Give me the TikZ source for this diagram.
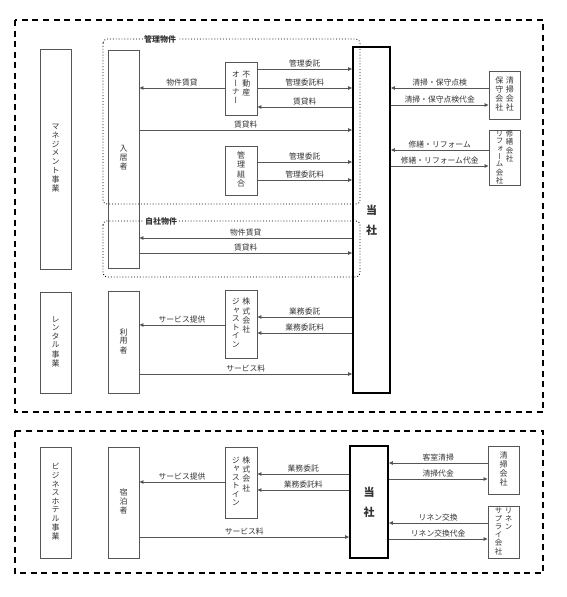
\documentclass[tikz,border=0pt]{standalone}
\usepackage{fontspec}
\setmainfont{Noto Sans CJK JP}
\newfontfamily\tatefont[RawFeature=+vert]{Noto Sans CJK JP}
\usetikzlibrary{arrows.meta}
\definecolor{linegray}{HTML}{555555}
\definecolor{textgray}{HTML}{333333}
\newcommand{\tcol}[1]{\begin{tabular}[t]{@{}c@{}}#1\end{tabular}}

\begin{document}
\begin{tikzpicture}[x=1pt,y=-1pt,>={Triangle[length=4pt,width=3.5pt]},
  box/.style={draw=linegray,line width=0.9pt,inner sep=0pt,text=textgray,
    font=\tatefont\fontsize{8}{8.4}\selectfont},
  tosha/.style={draw=black,line width=1.8pt,inner sep=0pt,text=textgray,
    font=\bfseries\fontsize{11}{20}\selectfont},
  arr/.style={->,draw=linegray,line width=0.8pt},
  lab/.style={above,inner sep=1.5pt,text=textgray,font=\fontsize{7.8}{8}\selectfont},
  area/.style={dotted,line width=0.9pt,rounded corners=4pt},
  areatag/.style={fill=white,inner sep=1.5pt,text=textgray,font=\bfseries\fontsize{8}{8}\selectfont},
  segment/.style={dash pattern=on 6pt off 4.5pt,line width=2pt}]
  \useasboundingbox (0,0) rectangle (567,597);

  % management + rental (upper segment)
  \draw[segment] (15,20) rectangle (543,412);
  \node[box,minimum width=31pt,minimum height=220pt] (mgmt) at (55.5,159)
       {\tcol{マ\\ネ\\ジ\\メ\\ン\\ト\\事\\業}};
  \node[box,minimum width=31pt,minimum height=218pt] (tenant) at (123.5,159)
       {\tcol{入\\居\\者}};
  \node[box,minimum width=32pt,minimum height=53pt] (owner) at (241,88.5)
       {\tcol{オ\\ー\\ナ\\ー}\hspace{2.5pt}\tcol{不\\動\\産}};
  \node[box,minimum width=32pt,minimum height=49pt] (union) at (241,170.5)
       {\tcol{管\\理\\組\\合}};
  \node[box,minimum width=32pt,minimum height=68pt] (justa) at (241,324)
       {\tcol{ジ\\ャ\\ス\\ト\\イ\\ン}\hspace{2.5pt}\tcol{株\\式\\会\\社}};
  \node[tosha,minimum width=37pt,minimum height=346pt] (toshaa) at (371.5,220)
       {\tcol{当\\社}};
  \node[box,minimum width=31pt,minimum height=48pt] (cleana) at (504.5,95)
       {\tcol{保\\守\\会\\社}\hspace{2.5pt}\tcol{清\\掃\\会\\社}};
  \node[box,minimum width=31pt,minimum height=50pt,
        font=\tatefont\fontsize{7.5}{7}\selectfont] (reform) at (504.5,158)
       {\tcol{リ\\フ\\ォ\\ー\\ム\\会\\社}\hspace{2.5pt}\tcol{修\\繕\\会\\社}};
  \node[box,minimum width=31pt,minimum height=101pt] (rental) at (55.5,342.5)
       {\tcol{レ\\ン\\タ\\ル\\事\\業}};
  \node[box,minimum width=31pt,minimum height=102pt] (user) at (123.5,342)
       {\tcol{利\\用\\者}};

  % managed / own properties
  \draw[area] (103,39) rectangle (360,204);
  \node[areatag] (managed) at (160,39) {管理物件};
  \draw[area] (103,221) rectangle (360,277);
  \node[areatag] (own) at (161,221) {自社物件};

  \draw[arr] (owner.east|-0,69) -- (toshaa.west|-0,69) node[lab,midway]{管理委託};
  \draw[arr] (owner.east|-0,88) -- (toshaa.west|-0,88) node[lab,midway]{管理委託料};
  \draw[arr] (toshaa.west|-0,107) -- (owner.east|-0,107) node[lab,midway]{賃貸料};
  \draw[arr] (owner.west|-0,88) -- (tenant.east|-0,88) node[lab,midway]{物件賃貸};
  \draw[arr] (tenant.east|-0,130) -- (toshaa.west|-0,130) node[lab,midway]{賃貸料};
  \draw[arr] (union.east|-0,162) -- (toshaa.west|-0,162) node[lab,midway]{管理委託};
  \draw[arr] (union.east|-0,180) -- (toshaa.west|-0,180) node[lab,midway]{管理委託料};
  \draw[arr] (toshaa.west|-0,238) -- (tenant.east|-0,238) node[lab,midway]{物件賃貸};
  \draw[arr] (tenant.east|-0,253) -- (toshaa.west|-0,253) node[lab,midway]{賃貸料};
  \draw[arr] (toshaa.west|-0,317) -- (justa.east|-0,317) node[lab,midway]{業務委託};
  \draw[arr] (toshaa.west|-0,333) -- (justa.east|-0,333) node[lab,midway]{業務委託料};
  \draw[arr] (justa.west|-0,325) -- (user.east|-0,325) node[lab,midway]{サービス提供};
  \draw[arr] (user.east|-0,374) -- (toshaa.west|-0,374) node[lab,midway]{サービス料};
  \draw[arr] (cleana.west|-0,88) -- (toshaa.east|-0,88) node[lab,midway]{清掃・保守点検};
  \draw[arr] (toshaa.east|-0,105) -- (cleana.west|-0,105) node[lab,midway]{清掃・保守点検代金};
  \draw[arr] (reform.west|-0,150) -- (toshaa.east|-0,150) node[lab,midway]{修繕・リフォーム};
  \draw[arr] (toshaa.east|-0,166) -- (reform.west|-0,166) node[lab,midway]{修繕・リフォーム代金};

  % business hotel (lower segment)
  \draw[segment] (15,431) rectangle (543,573);
  \node[box,minimum width=31pt,minimum height=111pt] (hotel) at (55.5,502.5)
       {\tcol{ビ\\ジ\\ネ\\ス\\ホ\\テ\\ル\\事\\業}};
  \node[box,minimum width=31pt,minimum height=111pt] (guest) at (123.5,502.5)
       {\tcol{宿\\泊\\者}};
  \node[box,minimum width=32pt,minimum height=71pt] (justb) at (241,482.5)
       {\tcol{ジ\\ャ\\ス\\ト\\イ\\ン}\hspace{2.5pt}\tcol{株\\式\\会\\社}};
  \node[tosha,minimum width=38pt,minimum height=112pt] (toshab) at (369,502)
       {\tcol{当\\社}};
  \node[box,minimum width=31pt,minimum height=48pt] (cleanb) at (503.5,470)
       {\tcol{清\\掃\\会\\社}};
  \node[box,minimum width=31pt,minimum height=52pt,
        font=\tatefont\fontsize{7.5}{7.3}\selectfont] (linen) at (503.5,532)
       {\tcol{サ\\プ\\ラ\\イ\\会\\社}\hspace{2.5pt}\tcol{リ\\ネ\\ン}};

  \draw[arr] (toshab.west|-0,474) -- (justb.east|-0,474) node[lab,midway]{業務委託};
  \draw[arr] (toshab.west|-0,490) -- (justb.east|-0,490) node[lab,midway]{業務委託料};
  \draw[arr] (justb.west|-0,482) -- (guest.east|-0,482) node[lab,midway]{サービス提供};
  \draw[arr] (guest.east|-0,537) -- (toshab.west|-0,537) node[lab,midway]{サービス料};
  \draw[arr] (cleanb.west|-0,463) -- (toshab.east|-0,463) node[lab,midway]{客室清掃};
  \draw[arr] (toshab.east|-0,479) -- (cleanb.west|-0,479) node[lab,midway]{清掃代金};
  \draw[arr] (linen.west|-0,523) -- (toshab.east|-0,523) node[lab,midway]{リネン交換};
  \draw[arr] (toshab.east|-0,539) -- (linen.west|-0,539) node[lab,midway]{リネン交換代金};
\end{tikzpicture}
\end{document}
